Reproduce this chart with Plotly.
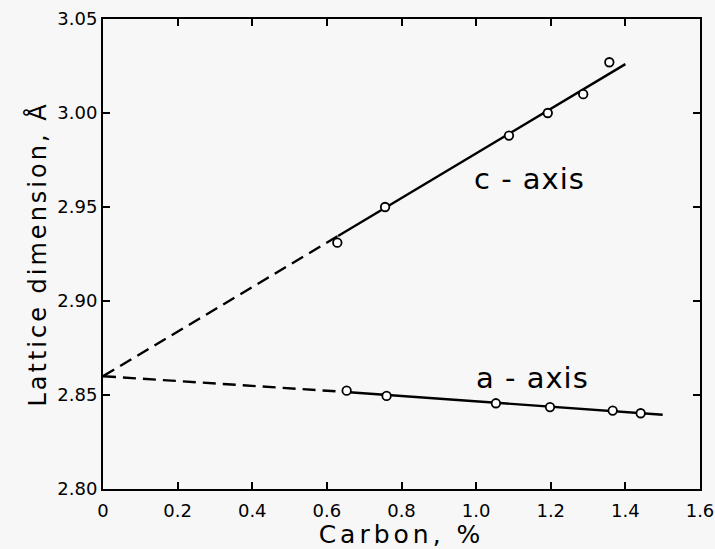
import plotly.graph_objects as go

# Data
c_carbon = [0.628, 0.756, 1.088, 1.192, 1.287, 1.357]
c_dim = [2.931, 2.950, 2.988, 3.000, 3.010, 3.027]
a_carbon = [0.653, 0.760, 1.053, 1.198, 1.366, 1.441]
a_dim = [2.8523, 2.8495, 2.8456, 2.8436, 2.8417, 2.8403]

# Fitted lines (dashed extrapolation, solid fit range)
c_dash_x = [0.0, 0.63]
c_dash_y = [2.860, 2.9346]
c_solid_x = [0.63, 1.40]
c_solid_y = [2.9346, 3.026]
a_dash_x = [0.0, 0.66]
a_dash_y = [2.860, 2.8515]
a_solid_x = [0.66, 1.50]
a_solid_y = [2.8515, 2.8395]

x_ticks = [0, 0.2, 0.4, 0.6, 0.8, 1.0, 1.2, 1.4, 1.6]
x_labels = ["0", "0.2", "0.4", "0.6", "0.8", "1.0", "1.2", "1.4", "1.6"]
y_ticks = [2.80, 2.85, 2.90, 2.95, 3.00, 3.05]
y_labels = ["2.80", "2.85", "2.90", "2.95", "3.00", "3.05"]

FONT = "DejaVu Sans"
BG = "#f7f7f7"
line = dict(color="black", width=2.4)
dline = dict(color="black", width=2.4, dash="13px,7px")

fig = go.Figure()
fig.add_trace(go.Scatter(x=c_dash_x, y=c_dash_y, mode="lines", line=dline))
fig.add_trace(go.Scatter(x=c_solid_x, y=c_solid_y, mode="lines", line=line))
fig.add_trace(go.Scatter(x=a_dash_x, y=a_dash_y, mode="lines", line=dline))
fig.add_trace(go.Scatter(x=a_solid_x, y=a_solid_y, mode="lines", line=line))
marker = dict(symbol="circle", size=8.5, color="white", line=dict(width=1.8, color="black"))
fig.add_trace(go.Scatter(x=c_carbon, y=c_dim, mode="markers", marker=marker))
fig.add_trace(go.Scatter(x=a_carbon, y=a_dim, mode="markers", marker=marker))

fig.add_annotation(x=1.142, y=2.965, text="c - axis", showarrow=False,
                   font=dict(family=FONT, size=29, color="black"))
fig.add_annotation(x=1.150, y=2.859, text="a - axis", showarrow=False,
                   font=dict(family=FONT, size=29, color="black"))

axis_common = dict(showgrid=False, zeroline=False, showline=True, linecolor="black",
                   linewidth=2, mirror="ticks", ticks="inside", ticklen=7,
                   tickwidth=1.5, tickcolor="black", automargin=False,
                   tickfont=dict(family=FONT, size=18, color="black"))

fig.update_layout(
    template="none",
    width=715, height=549,
    margin=dict(l=103, r=15, t=19, b=60),
    paper_bgcolor=BG, plot_bgcolor=BG,
    showlegend=False,
    xaxis=dict(range=[0, 1.6], tickvals=x_ticks, ticktext=x_labels,
               ticklabelstandoff=4,
               title=dict(text="Carbon, %", font=dict(family=FONT, size=25, color="black"),
                          standoff=2),
               **axis_common),
    yaxis=dict(range=[2.80, 3.05], tickvals=y_ticks, ticktext=y_labels,
               title=dict(text="Lattice dimension, Å", font=dict(family=FONT, size=24, color="black"),
                          standoff=4),
               **axis_common),
)

post = (
    "document.body.style.margin='0';"
    "document.body.style.background='" + BG + "';"
    "var s=document.createElement('style');"
    "s.textContent='text.xtitle{letter-spacing:4px}text.ytitle{letter-spacing:3px}"
    ".annotation-text{letter-spacing:1px}';"
    "document.head.appendChild(s);"
)
fig.write_html("out.html", post_script=post, config={"displayModeBar": False})
